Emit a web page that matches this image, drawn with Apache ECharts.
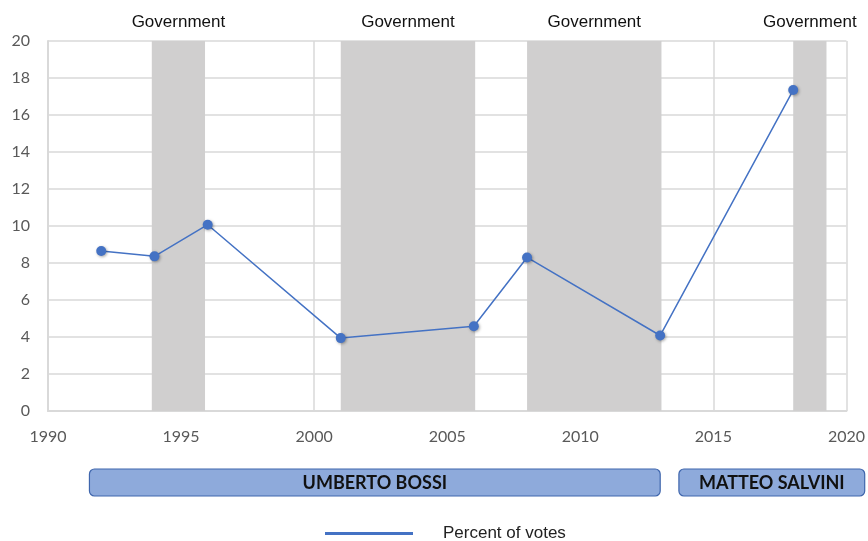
<!DOCTYPE html>
<html>
<head>
<meta charset="utf-8">
<script src="https://cdn.jsdelivr.net/npm/echarts@6/dist/echarts.min.js"></script>
<style>
  html, body { margin: 0; padding: 0; background: #fff; }
  #main { width: 868px; height: 541px; }
</style>
</head>
<body>
<div id="main"></div>
<script>
var dom = document.getElementById('main');
var myChart = echarts.init(dom, null, { renderer: 'canvas' });

// Election results (percent of votes)
var years = [1992, 1994, 1996, 2001, 2006, 2008, 2013, 2018];
var votes = [8.65, 8.36, 10.07, 3.94, 4.58, 8.30, 4.08, 17.35];

// Periods in government
var govStart = [1993.9, 2001, 2008, 2018];
var govEnd = [1995.9, 2006.05, 2013.05, 2019.25];

// Party leaders
var leaders = ['UMBERTO BOSSI', 'MATTEO SALVINI'];
var leaderStart = [1991.55, 2013.6];
var leaderEnd = [2012.9, 2020.55];

var gridLine = '#d9d9d9';
var blue = '#4472c4';

function renderLeader(params, api) {
    var start = api.coord([api.value(0), 0]);
    var end = api.coord([api.value(1), 0]);
    var h = api.size([0, 1])[1];
    var y = start[1] - h / 2;
    return {
        type: 'group',
        children: [
            {
                type: 'rect',
                shape: { x: start[0], y: y, width: end[0] - start[0], height: h, r: 5 },
                style: { fill: '#8eaadb', stroke: '#3f66ad', lineWidth: 1.2 }
            },
            {
                type: 'text',
                style: {
                    text: api.value(2),
                    x: (start[0] + end[0]) / 2,
                    y: start[1] + 1,
                    align: 'center',
                    verticalAlign: 'middle',
                    font: 'bold 18px Lato, "Liberation Sans", sans-serif',
                    fill: '#111'
                }
            }
        ]
    };
}

var option = {
    animation: false,
    grid: [
        { left: 48, right: 18, top: 41, bottom: 130 },
        { left: 48, right: 18, top: 469, height: 27 }
    ],
    legend: {
        data: ['Percent of votes'],
        left: 320,
        top: 520,
        icon: 'rect',
        itemWidth: 88,
        itemHeight: 3,
        textStyle: {
            color: '#222',
            fontSize: 17,
            fontFamily: '"Liberation Sans", Arial, sans-serif',
            padding: [0, 0, 0, 25]
        }
    },
    xAxis: [
        {
            type: 'value',
            gridIndex: 0,
            min: 1990,
            max: 2020,
            interval: 5,
            axisLine: { show: true, lineStyle: { color: gridLine, width: 2 } },
            axisTick: { show: false },
            axisLabel: {
                color: '#595959',
                fontSize: 16,
                margin: 18,
                fontFamily: 'Lato, "Liberation Sans", sans-serif',
                formatter: function (v) { return String(v); }
            },
            splitLine: { show: true, lineStyle: { color: gridLine, width: 1.5 } }
        },
        {
            type: 'value',
            gridIndex: 1,
            min: 1990,
            max: 2020,
            show: false
        }
    ],
    yAxis: [
        {
            type: 'value',
            gridIndex: 0,
            min: 0,
            max: 20,
            interval: 2,
            axisLine: { show: true, lineStyle: { color: gridLine, width: 2 } },
            axisTick: { show: false },
            axisLabel: {
                color: '#595959',
                fontSize: 16,
                margin: 18,
                fontFamily: 'Lato, "Liberation Sans", sans-serif'
            },
            splitLine: { show: true, lineStyle: { color: gridLine, width: 1.5 } }
        },
        {
            type: 'category',
            gridIndex: 1,
            data: ['leader'],
            show: false
        }
    ],
    series: [
        {
            name: 'Percent of votes',
            type: 'line',
            xAxisIndex: 0,
            yAxisIndex: 0,
            data: years.map(function (y, i) { return [y, votes[i]]; }),
            symbol: 'circle',
            symbolSize: 10,
            z: 5,
            lineStyle: { color: blue, width: 1.5 },
            itemStyle: {
                color: blue,
                shadowColor: 'rgba(0,0,0,0.35)',
                shadowBlur: 3,
                shadowOffsetX: 1,
                shadowOffsetY: 1
            },
            markArea: {
                silent: true,
                itemStyle: { color: '#d0cfcf' },
                label: {
                    show: true,
                    position: 'top',
                    distance: 10,
                    color: '#111',
                    fontSize: 17,
                    fontFamily: '"Liberation Sans", Arial, sans-serif'
                },
                data: govStart.map(function (s, i) {
                    return [
                        { name: 'Government', xAxis: s, yAxis: 0 },
                        { xAxis: govEnd[i], yAxis: 20 }
                    ];
                })
            }
        },
        {
            name: 'leaders',
            type: 'custom',
            xAxisIndex: 1,
            yAxisIndex: 1,
            clip: false,
            renderItem: renderLeader,
            data: leaders.map(function (n, i) {
                return [leaderStart[i], leaderEnd[i], n];
            })
        }
    ]
};

myChart.setOption(option);
window.addEventListener('resize', myChart.resize);
</script>
</body>
</html>
